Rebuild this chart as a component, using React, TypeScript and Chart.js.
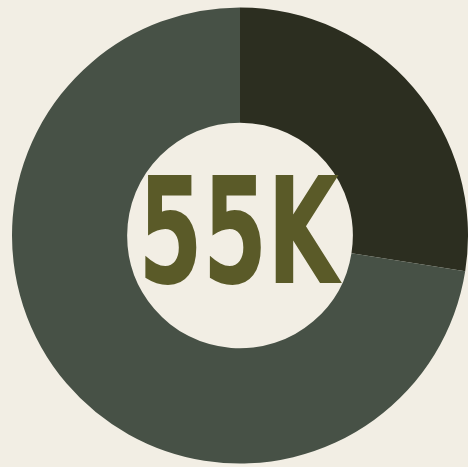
import React, { useEffect, useRef } from "react";
import { Chart, registerables } from "chart.js";

Chart.register(...registerables);

const categories = ["Part A", "Part B"];
const values = [27.5, 72.5];
const centerLabel = "55K";
const segmentColors = ["#2c2e20", "#475146"];
const background = "#f2eee4";
const textColor = "#5a5a28";

const centerTextPlugin = {
  id: "centerText",
  afterDraw(chart: any) {
    const ctx = chart.ctx as CanvasRenderingContext2D;
    ctx.save();
    ctx.font = "bold 150px 'Liberation Sans Narrow', 'DejaVu Sans Condensed', sans-serif";
    const m = ctx.measureText(centerLabel);
    const w = m.actualBoundingBoxLeft + m.actualBoundingBoxRight;
    const h = m.actualBoundingBoxAscent + m.actualBoundingBoxDescent;
    const targetW = 197;
    const targetH = 110;
    const left = 145;
    const top = 175;
    ctx.translate(left, top);
    ctx.scale(targetW / w, targetH / h);
    ctx.fillStyle = textColor;
    ctx.textBaseline = "alphabetic";
    ctx.textAlign = "left";
    ctx.fillText(centerLabel, m.actualBoundingBoxLeft, m.actualBoundingBoxAscent);
    ctx.restore();
  },
};

export default function App() {
  const ref = useRef<HTMLCanvasElement | null>(null);
  useEffect(() => {
    document.body.style.margin = "0";
    document.body.style.background = background;
    const chart = new Chart(ref.current!, {
      type: "doughnut",
      data: {
        labels: categories,
        datasets: [
          {
            data: values,
            backgroundColor: segmentColors,
            borderWidth: 0,
          },
        ],
      },
      options: {
        animation: false,
        responsive: false,
        cutout: "49.5%",
        layout: { padding: { left: 12, top: 7, bottom: 3, right: 0 } },
        plugins: {
          legend: { display: false },
          tooltip: { enabled: false },
        },
      },
      plugins: [centerTextPlugin],
    });
    return () => chart.destroy();
  }, []);
  return (
    <div style={{ width: 468, height: 467, background, overflow: "hidden" }}>
      <canvas ref={ref} width={468} height={467} style={{ display: "block" }} />
    </div>
  );
}
